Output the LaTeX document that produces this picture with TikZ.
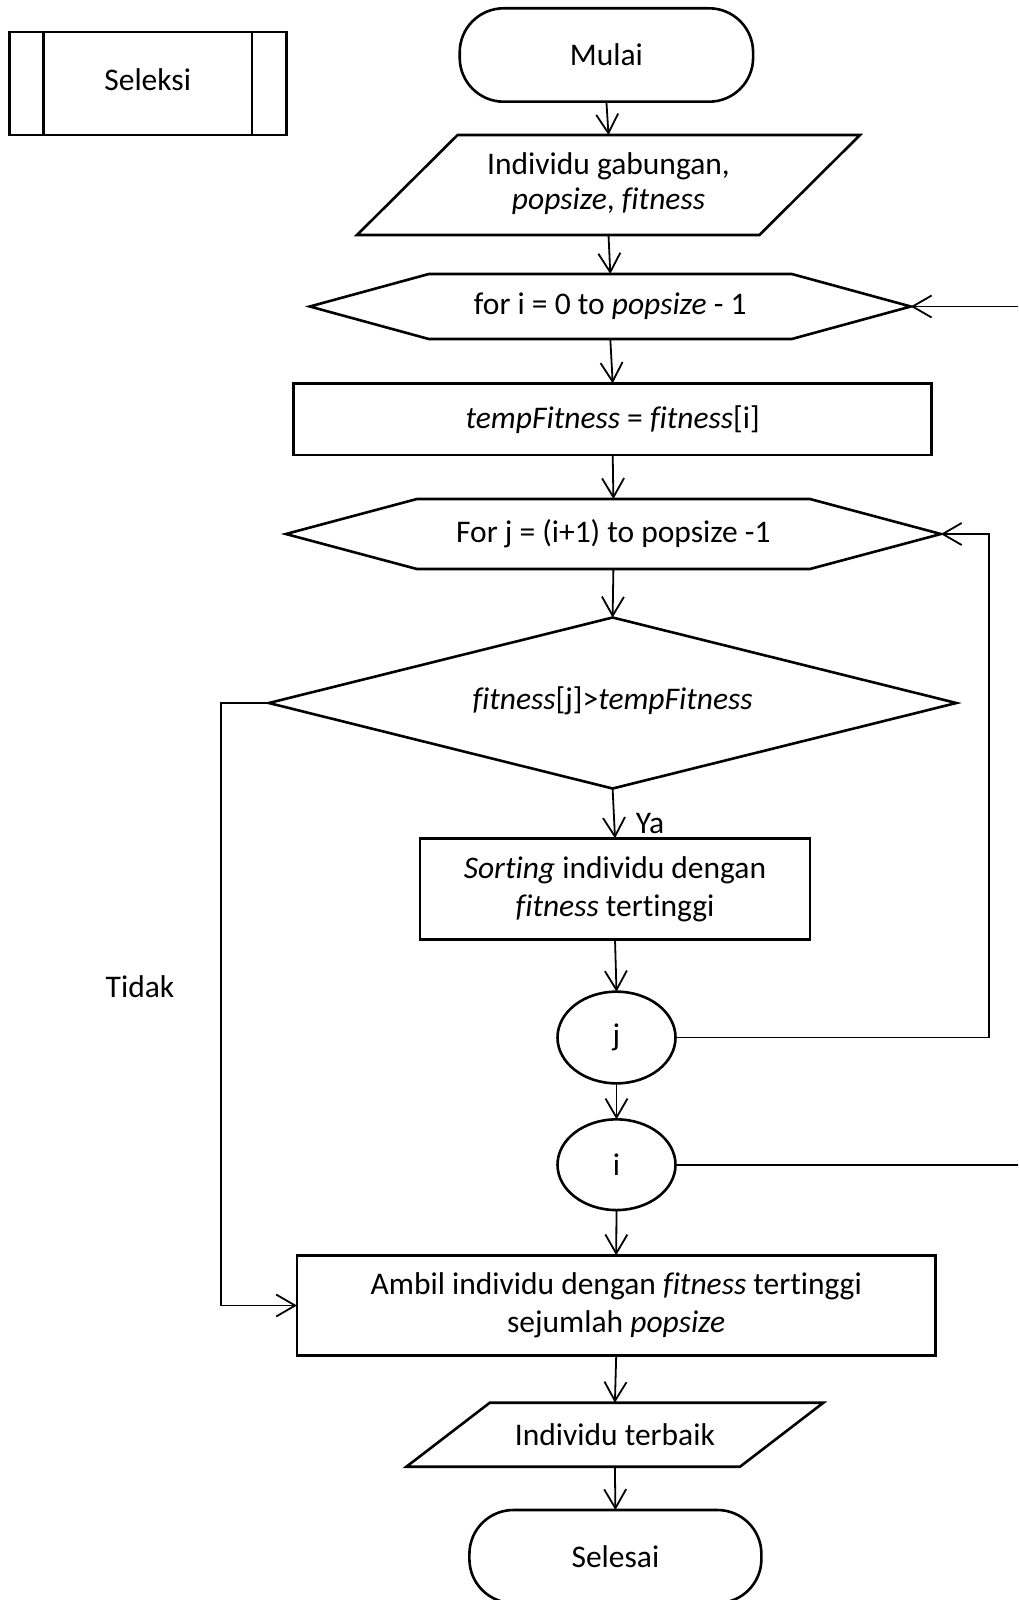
\documentclass[tikz,border=0pt]{standalone}
\usepackage{fontspec}
\setmainfont{Carlito}[Ligatures={NoCommon}]
\usetikzlibrary{arrows.meta,calc,shapes.geometric}
\begin{document}
\begin{tikzpicture}[x=1pt,y=-1pt,
  every node/.style={font=\fontsize{31.5}{38}\selectfont},
  outline/.style={line width=2.6pt},
  box/.style={draw,outline,rectangle,inner sep=0pt,outer sep=0pt,align=center},
  ghost/.style={rectangle,inner sep=0pt,outer sep=0pt,align=center},
  oval/.style={draw,outline,ellipse,inner sep=0pt,outer sep=0pt,minimum width=118pt},
  flow/.style={line width=1.8pt},
  arr/.style={flow,-{Straight Barb[length=19pt,width=22pt]}}]
\useasboundingbox (0,0) rectangle (1018,1600);
\clip (0,0) rectangle (1018,1600);
\fill[white] (0,0) rectangle (1018,1600);

% predefined process title
\node[box, minimum width=277pt, minimum height=103pt] (sel) at (147.7,83.6) {\raisebox{9pt}{Seleksi}};
\draw[outline] ($(sel.north west)+(34.4,0)$) -- ($(sel.south west)+(34.4,0)$);
\draw[outline] ($(sel.north east)+(-34.4,0)$) -- ($(sel.south east)+(-34.4,0)$);

% terminal: start
\node[box, rounded corners=44pt, minimum width=293.4pt, minimum height=93.4pt] (start) at (606.4,55) {Mulai};

% input
\node[ghost, minimum width=503pt, minimum height=100pt] (in) at (608.5,185)
  {\raisebox{-8pt}{\fontsize{31.5}{35.5}\selectfont\begin{tabular}{@{}c@{}}Individu gabungan,\\\textit{popsize}, \textit{fitness}\end{tabular}}};
\draw[outline] ($(in.north west)+(100.6,0)$) -- (in.north east) -- ($(in.south east)+(-100.6,0)$) -- (in.south west) -- cycle;

% outer loop
\node[ghost, minimum width=601pt, minimum height=65pt] (fori) at (610.3,306.5) {for i = 0 to \textit{popsize} - 1};
\draw[outline] (fori.west) -- ($(fori.north west)+(119,0)$) -- ($(fori.north east)+(-119,0)$) -- (fori.east)
  -- ($(fori.south east)+(-119,0)$) -- ($(fori.south west)+(119,0)$) -- cycle;

\node[box, minimum width=638pt, minimum height=71.7pt] (temp) at (612.7,419.2) {\textit{tempFitness} = \textit{fitness}[i]};

% inner loop
\node[ghost, minimum width=655pt, minimum height=70pt] (forj) at (613.4,534) {For j = (i+1) to popsize -1};
\draw[outline] (forj.west) -- ($(forj.north west)+(131,0)$) -- ($(forj.north east)+(-131,0)$) -- (forj.east)
  -- ($(forj.south east)+(-131,0)$) -- ($(forj.south west)+(131,0)$) -- cycle;

% decision
\node[ghost, minimum width=687.5pt, minimum height=171pt] (dia) at (612.6,703) {\raisebox{10pt}{\textit{fitness}[j]>\textit{tempFitness}}};
\draw[outline] (dia.north) -- (dia.east) -- (dia.south) -- (dia.west) -- cycle;

\node[box, minimum width=390pt, minimum height=101pt] (sort) at (615,888.8) {\textit{Sorting} individu dengan\\\textit{fitness} tertinggi};

% loop connectors
\node[oval, minimum height=91.7pt] (jc) at (616.5,1037.5) {j};
\node[oval, minimum height=90.7pt] (ic) at (616.5,1164.7) {i};

\node[box, minimum width=638.5pt, minimum height=100.4pt] (ambil) at (616.2,1305.5) {Ambil individu dengan \textit{fitness} tertinggi\\sejumlah \textit{popsize}};

% output
\node[ghost, minimum width=417pt, minimum height=64pt] (out) at (614.9,1434.7) {Individu terbaik};
\draw[outline] ($(out.north west)+(83.4,0)$) -- (out.north east) -- ($(out.south east)+(-83.4,0)$) -- (out.south west) -- cycle;

% terminal: end
\node[box, rounded corners=44pt, minimum width=292pt, minimum height=93pt] (end) at (615.4,1556.5) {Selesai};

% main flow
\draw[arr] (start.south) -- (in.north);
\draw[arr] (in.south) -- (fori.north);
\draw[arr] (fori.south) -- (temp.north);
\draw[arr] (temp.south) -- (forj.north);
\draw[arr] (forj.south) -- (dia.north);
\draw[arr] (dia.south) -- (sort.north);
\draw[arr] (sort.south) -- (jc.north);
\draw[arr] (jc.south) -- (ic.north);
\draw[arr] (ic.south) -- (ambil.north);
\draw[arr] (ambil.south) -- (out.north);
\draw[arr] (out.south) -- (end.north);

% loop backs
\draw[arr] (jc.east) -| ($(forj.east)+(47.7,0)$) -- (forj.east);
\draw[arr] (ic.east) -| ($(fori.east)+(130,0)$) -- (fori.east);

% "no" branch
\draw[arr] (dia.west) -| ($(ambil.west)+(-76.1,0)$) -- (ambil.west);

\node (ya) at (650,823) {Ya};
\node (tidak) at (140,987) {Tidak};
\end{tikzpicture}
\end{document}
